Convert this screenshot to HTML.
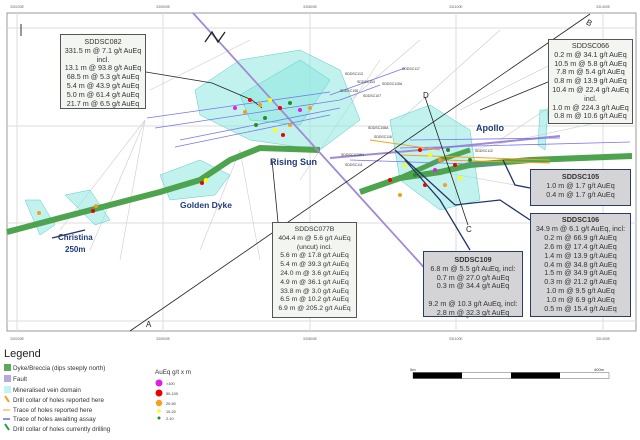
<!DOCTYPE html>
<html><head><meta charset="utf-8"><style>
body{margin:0;background:#fff;width:640px;height:440px;overflow:hidden;font-family:"Liberation Sans",sans-serif}
.b{position:absolute;font-size:7.2px;line-height:8.8px;text-align:center;color:#333;box-sizing:border-box}
.w{background:#f3f5f1;border:1.2px solid #555}
.g{background:#d4d4d6;border:1.5px solid #2a3a6e}
.g b{display:block}
</style></head><body>
<svg width="640" height="440" style="position:absolute;left:0;top:0" font-family="Liberation Sans, sans-serif">
<rect x="7" y="13" width="629" height="318" fill="#fff" stroke="#999" stroke-width="1"/>
<g stroke="#ddd" stroke-width="1">
<line x1="17" y1="13" x2="17" y2="331"/><line x1="163" y1="13" x2="163" y2="331"/><line x1="310" y1="13" x2="310" y2="331"/><line x1="456" y1="13" x2="456" y2="331"/><line x1="603" y1="13" x2="603" y2="331"/>
<line x1="7" y1="28" x2="636" y2="28"/><line x1="7" y1="126" x2="636" y2="126"/><line x1="7" y1="223" x2="636" y2="223"/><line x1="7" y1="321" x2="636" y2="321"/>
</g>
<g font-size="3.5" fill="#666"><text x="10" y="8">330200E</text><text x="156" y="8">330500E</text><text x="303" y="8">330800E</text><text x="449" y="8">331100E</text><text x="596" y="8">331400E</text>
<text x="10" y="340">330200E</text><text x="156" y="340">330500E</text><text x="303" y="340">330800E</text><text x="449" y="340">331100E</text><text x="596" y="340">331400E</text></g>
<g stroke="#ccc" stroke-width="0.6" fill="none">
<path d="M145 120 L60 230 M145 120 L90 250 M145 120 L120 260 M240 150 L200 250 M240 150 L260 260 M300 180 L380 60 M350 100 L420 40 M400 120 L500 30 M460 110 L560 60 M470 150 L610 120 M430 170 L600 200 M150 90 L250 40 M500 140 L620 60"/>
</g>
<g fill="#8ee8e0" fill-opacity="0.55" stroke="#5cc" stroke-width="0.5">
<path d="M195 90 L240 60 L300 50 L340 70 L360 120 L320 150 L250 140 L200 115Z"/>
<path d="M240 95 L300 60 L330 80 L300 125 L250 120Z"/>
<path d="M390 120 L430 105 L470 130 L480 200 L440 210 L400 180Z"/>
<path d="M160 175 L200 160 L230 175 L215 195 L170 200Z"/>
<path d="M65 195 L90 190 L110 220 L95 225Z"/>
<path d="M25 200 L40 200 L55 225 L40 235Z"/>
<path d="M540 110 L548 110 L545 150 L538 145Z"/>
</g>
<path d="M7 232 L60 218 L110 205 L160 192 L200 180 L230 160 L260 148 L320 150" stroke="#4ea34e" stroke-width="6" fill="none"/>
<path d="M360 192 L400 178 L440 172 L470 165 L530 160 L632 156" stroke="#4ea34e" stroke-width="6" fill="none"/>
<path d="M400 178 L440 160 L470 150" stroke="#4ea34e" stroke-width="5" fill="none"/>
<path d="M193 13 L420 263 L468 318" stroke="#a08ad6" stroke-width="1.8" fill="none"/>
<path d="M330 158 L420 150 L560 136" stroke="#a08ad6" stroke-width="2" fill="none"/>
<g stroke="#7777ee" stroke-width="0.8" fill="none">
<path d="M147 118 L330 92 M155 128 L340 100 M180 140 L340 108 M175 147 L330 115 M330 95 L405 68 M340 100 L380 85 M400 148 L630 142 M410 140 L560 138 M350 160 L500 165"/>
</g>
<g stroke="#f5a020" stroke-width="1" fill="none"><path d="M370 140 L440 150 M400 155 L550 160 M440 160 L550 163"/></g>
<g stroke="#222" stroke-width="0.8" fill="none">
<path d="M130 331 L590 14"/><path d="M425 97 L468 225"/>
<path d="M146 72 L212 83 L252 100 L262 108"/><path d="M548 82 L480 110"/>
<path d="M272 160 L278 222"/>
</g>
<g stroke="#223366" stroke-width="1.3" fill="none">
<path d="M395 150 L455 205 L500 200 L530 220"/><path d="M405 160 L440 200 L470 250"/><path d="M503 160 L515 185 L530 188"/>
<path d="M85 230 L52 238"/>
</g>
<g>
<circle cx="250" cy="100" r="2" fill="#e00"/><circle cx="260" cy="105" r="2" fill="#f0a020"/><circle cx="270" cy="100" r="2" fill="#ff0"/><circle cx="280" cy="108" r="2" fill="#e00"/><circle cx="290" cy="103" r="2" fill="#2a8a2a"/><circle cx="300" cy="110" r="2" fill="#e020e0"/><circle cx="245" cy="112" r="2" fill="#f0a020"/><circle cx="265" cy="118" r="2" fill="#2a8a2a"/><circle cx="275" cy="130" r="2" fill="#ff0"/><circle cx="283" cy="135" r="2" fill="#e00"/><circle cx="310" cy="108" r="2" fill="#f0a020"/><circle cx="235" cy="108" r="2" fill="#e020e0"/><circle cx="256" cy="125" r="2" fill="#2a8a2a"/><circle cx="290" cy="125" r="2" fill="#f0a020"/>
<circle cx="420" cy="150" r="2" fill="#e00"/><circle cx="430" cy="155" r="2" fill="#ff0"/><circle cx="440" cy="160" r="2" fill="#f0a020"/><circle cx="448" cy="150" r="2" fill="#2a8a2a"/><circle cx="455" cy="165" r="2" fill="#e00"/><circle cx="435" cy="170" r="2" fill="#e020e0"/><circle cx="415" cy="175" r="2" fill="#2a8a2a"/><circle cx="425" cy="185" r="2" fill="#e00"/><circle cx="445" cy="185" r="2" fill="#f0a020"/><circle cx="460" cy="178" r="2" fill="#ff0"/><circle cx="405" cy="165" r="2" fill="#ff0"/><circle cx="390" cy="180" r="2" fill="#e00"/><circle cx="470" cy="160" r="2" fill="#2a8a2a"/><circle cx="400" cy="195" r="2" fill="#f0a020"/>
<circle cx="93" cy="211" r="2" fill="#e00"/><circle cx="96" cy="206" r="2" fill="#f0a020"/><circle cx="39" cy="213" r="2" fill="#f0a020"/><circle cx="202" cy="183" r="2" fill="#e00"/><circle cx="206" cy="180" r="2" fill="#ff0"/>
</g>
<g font-size="3.5" fill="#333"><text x="345" y="75">SDDSC113</text><text x="357" y="83">SDDSC114</text><text x="382" y="85">SDDSC115A</text><text x="402" y="70">SDDSC117</text><text x="363" y="97">SDDSC107</text><text x="340" y="92">SDDSC108</text>
<text x="368" y="129">SDDSC108A</text><text x="374" y="138">SDDSC116</text><text x="341" y="156">SDDSC112W1</text><text x="345" y="166">SDDSC111</text><text x="475" y="152">SDDSC112</text></g>
<g font-weight="bold" fill="#1f3a7a">
<text x="270" y="165" font-size="9">Rising Sun</text><text x="476" y="131" font-size="9">Apollo</text><text x="180" y="208" font-size="8.5">Golden Dyke</text>
<text x="58" y="240" font-size="8">Christina</text><text x="65" y="252" font-size="8">250m</text></g>
<g font-size="8" fill="#222"><text x="423" y="98">D</text><text x="466" y="232">C</text><text x="586" y="26" transform="rotate(30 590 24)">B</text><text x="146" y="327">A</text></g>
<path d="M205 42 L212 32 L218 42 L225 32" stroke="#222" stroke-width="1.3" fill="none"/>
<path d="M21 24 L21 36" stroke="#333" stroke-width="1"/>
<text x="4" y="357" font-size="11" fill="#222">Legend</text>
<g font-size="6.3" fill="#333">
<rect x="4" y="364" width="7" height="7" fill="#5aaa5a"/><text x="13" y="370">Dyke/Breccia (dips steeply north)</text>
<rect x="4" y="375" width="7" height="7" fill="#b8a8e0"/><text x="13" y="381">Fault</text>
<rect x="4" y="386" width="7" height="7" fill="#bff4f4"/><text x="13" y="392">Mineralised vein domain</text>
<path d="M5 396 L9 402" stroke="#f0a020" stroke-width="2"/><text x="13" y="402">Drill collar of holes reported here</text>
<line x1="3" y1="410" x2="10" y2="410" stroke="#f0a020"/><text x="13" y="412">Trace of holes reported here</text>
<line x1="3" y1="419" x2="10" y2="419" stroke="#6a6aee" stroke-width="1.5"/><text x="13" y="421">Trace of holes awaiting assay</text>
<path d="M5 424 L9 430" stroke="#20a040" stroke-width="2"/><text x="13" y="431">Drill collar of holes currently drilling</text>
<text x="155" y="374" font-size="6.3">AuEq g/t x m</text>
<circle cx="159" cy="383" r="3.5" fill="#e020e0"/><text x="166" y="385" font-size="3.8">&gt;100</text>
<circle cx="159" cy="393" r="3.5" fill="#e00"/><text x="166" y="395" font-size="3.8">50-100</text>
<circle cx="159" cy="403" r="3.2" fill="#f5a020"/><text x="166" y="405" font-size="3.8">20-50</text>
<circle cx="159" cy="411" r="1.8" fill="#ff0"/><text x="166" y="413" font-size="3.8">10-20</text>
<circle cx="159" cy="418" r="1.5" fill="#2a8a2a"/><text x="166" y="420" font-size="3.8">2-10</text>
</g>
<text x="410" y="371" font-size="4" fill="#333">0m</text><text x="594" y="371" font-size="4" fill="#333">400m</text>
<rect x="413" y="372.5" width="196" height="6" fill="#fff" stroke="#666" stroke-width="0.5"/>
<rect x="413" y="372.5" width="49" height="6" fill="#000"/><rect x="511" y="372.5" width="49" height="6" fill="#000"/>
</svg>
<div class="b w" style="left:60px;top:34px;width:86px;height:75px;padding-top:3px">SDDSC082<br>331.5 m @ 7.1 g/t AuEq<br>incl.<br>13.1 m @ 93.8 g/t AuEq<br>68.5 m @ 5.3 g/t AuEq<br>5.4 m @ 43.9 g/t AuEq<br>5.0 m @ 61.4 g/t AuEq<br>21.7 m @ 6.5 g/t AuEq</div>
<div class="b w" style="left:548px;top:39px;width:85px;height:85px;padding-top:2px">SDDSC066<br>0.2 m @ 34.1 g/t AuEq<br>10.5 m @ 5.8 g/t AuEq<br>7.8 m @ 5.4 g/t AuEq<br>0.8 m @ 13.9 g/t AuEq<br>10.4 m @ 22.4 g/t AuEq<br>incl.<br>1.0 m @ 224.3 g/t AuEq<br>0.8 m @ 10.6 g/t AuEq</div>
<div class="b w" style="left:272px;top:222px;width:85px;height:96px;padding-top:3px;font-size:6.8px;line-height:8.8px">SDDSC077B<br>404.4 m @ 5.6 g/t AuEq<br>(uncut) incl.<br>5.6 m @ 17.8 g/t AuEq<br>5.4 m @ 39.3 g/t AuEq<br>24.0 m @ 3.6 g/t AuEq<br>4.9 m @ 36.1 g/t AuEq<br>33.8 m @ 3.0 g/t AuEq<br>6.5 m @ 10.2 g/t AuEq<br>6.9 m @ 205.2 g/t AuEq</div>
<div class="b g" style="left:530px;top:169px;width:101px;height:37px;padding-top:3px"><b>SDDSC105</b>1.0 m @ 1.7 g/t AuEq<br>0.4 m @ 1.7 g/t AuEq</div>
<div class="b g" style="left:530px;top:213px;width:101px;height:104px;padding-top:2px;line-height:8.9px"><b>SDDSC106</b>34.9 m @ 6.1 g/t AuEq, incl:<br>0.2 m @ 66.9 g/t AuEq<br>2.6 m @ 17.4 g/t AuEq<br>1.4 m @ 13.9 g/t AuEq<br>0.4 m @ 34.8 g/t AuEq<br>1.5 m @ 34.9 g/t AuEq<br>0.3 m @ 21.2 g/t AuEq<br>1.0 m @ 9.5 g/t AuEq<br>1.0 m @ 6.9 g/t AuEq<br>0.5 m @ 15.4 g/t AuEq</div>
<div class="b g" style="left:423px;top:251px;width:100px;height:66px;padding-top:4px"><b>SDDSC109</b>6.8 m @ 5.5 g/t AuEq, incl:<br>0.7 m @ 27.0 g/t AuEq<br>0.3 m @ 34.4 g/t AuEq<br><br>9.2 m @ 10.3 g/t AuEq, incl:<br>2.8 m @ 32.3 g/t AuEq</div>
</body></html>
